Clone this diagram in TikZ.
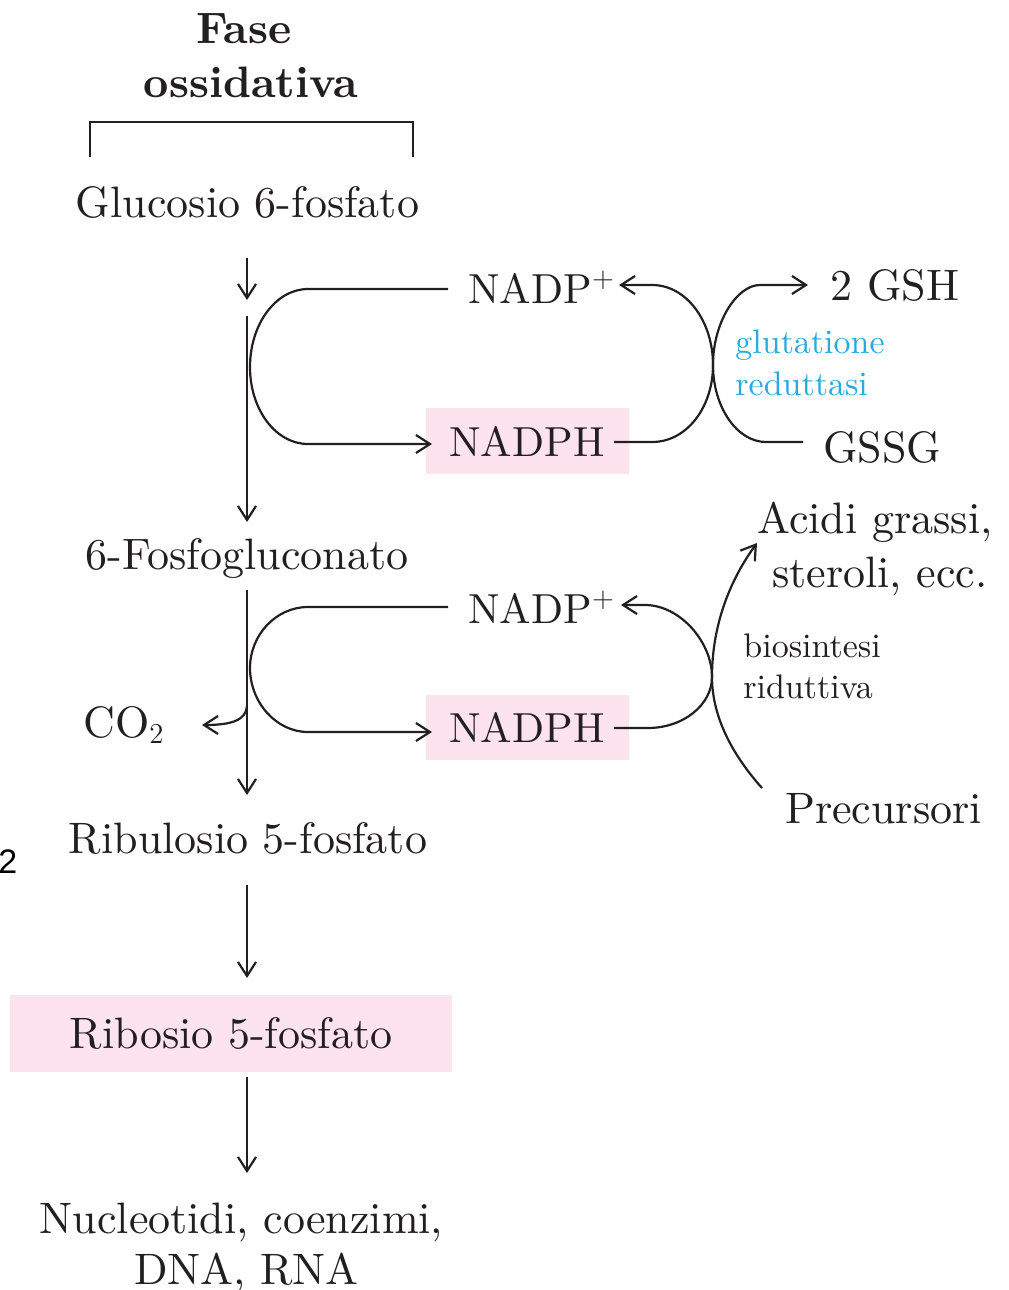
\documentclass[tikz,border=0pt]{standalone}
\usepackage{fontspec}
\setmainfont{lmroman10-regular.otf}[BoldFont=lmroman10-bold.otf, ItalicFont=lmroman10-italic.otf]
\newfontfamily\sansf{Liberation Sans}
\usetikzlibrary{arrows.meta}
\definecolor{ink}{HTML}{231F20}
\definecolor{pinkbox}{HTML}{FCE3ED}
\definecolor{cyantxt}{HTML}{27A9E1}
\tikzset{
  lbl/.style={inner sep=0pt, text=ink, font=\fontsize{22}{26}\selectfont},
  nadlbl/.style={inner sep=0pt, text=ink, font=\fontsize{21}{25}\selectfont},
  small/.style={inner sep=0pt, text=ink, font=\fontsize{17}{20}\selectfont},
  boldlbl/.style={inner sep=0pt, text=ink, font=\fontsize{22}{26}\selectfont\bfseries},
  pinkbg/.style={fill=pinkbox, inner sep=0pt, text=ink, font=\fontsize{22}{26}\selectfont},
  conn/.style={draw=ink, line width=1.1pt},
  arr/.style={conn, -{Straight Barb[length=7pt,width=9pt,line width=1.1pt]}},
}
\begin{document}
\begin{tikzpicture}[x=0.5pt,y=-0.5pt]
\useasboundingbox (0,0) rectangle (1008,1290);

% titles
\node[boldlbl, anchor=base] (fase1) at (244,43) {Fase};
\node[boldlbl, anchor=base] (fase2) at (251,97) {ossidativa};
\coordinate (brL) at (90,157);
\coordinate (brR) at (413,157);
\draw[conn] (brL) -- ++(0,-35) -| (brR);

% main column
\node[lbl, anchor=base] (g6p) at (247.5,217) {Glucosio 6-fosfato};
\node[lbl, anchor=base] (pg6) at (247,569) {6-Fosfogluconato};
\node[lbl, anchor=base] (ru5p) at (248,853) {Ribulosio 5-fosfato};
\node[pinkbg, minimum width=221pt, minimum height=38.5pt] (r5p) at (231,1033.5) {Ribosio 5-fosfato};
\node[lbl, anchor=base] (nuc1) at (241.5,1233) {Nucleotidi, coenzimi,};
\node[lbl, anchor=base] (nuc2) at (246.5,1284) {DNA, RNA};

\coordinate (a1s) at (247,258);
\coordinate (a1e) at (247,300);
\coordinate (a2s) at (247,316);
\coordinate (a2e) at (247,522);
\coordinate (a3s) at (247,590);
\coordinate (a3e) at (247,795);
\coordinate (a4s) at (247,885);
\coordinate (a4e) at (247,978);
\coordinate (a5s) at (247,1077);
\coordinate (a5e) at (247,1173);
\draw[arr] (a1s) -- (a1e);
\draw[arr] (a2s) -- (a2e);
\draw[arr] (a3s) -- (a3e);
\draw[arr] (a4s) -- (a4e);
\draw[arr] (a5s) -- (a5e);

% upper NADP loop
\node[nadlbl, anchor=base west] (nadpu) at (468,303) {NADP$^{+}$};
\node[pinkbg, font=\fontsize{21}{25}\selectfont, minimum width=101.5pt, minimum height=33pt] (nadphu) at (527,441) {NADPH};
\coordinate (lu1) at (448,289);
\coordinate (lu2) at (432,444);
\draw[arr] (lu1) -- (308,289) .. controls (276,289) and (250,324) .. (250,367)
  .. controls (250,410) and (276,444) .. (308,444) -- (lu2);

% lower NADP loop
\node[nadlbl, anchor=base west] (nadpl) at (468,623) {NADP$^{+}$};
\node[pinkbg, font=\fontsize{21}{25}\selectfont, minimum width=101.5pt, minimum height=32.5pt] (nadphl) at (527,727.5) {NADPH};
\coordinate (ll1) at (448,607);
\coordinate (ll2) at (432,732);
\draw[arr] (ll1) -- (308,607) .. controls (276,607) and (250,635) .. (250,668)
  .. controls (250,702) and (276,732) .. (308,732) -- (ll2);

% CO2
\node[lbl, anchor=base west] (co2) at (83,737) {CO$_2$};
\coordinate (co2s) at (247,706);
\coordinate (co2e) at (202,725);
\draw[arr] (co2s) .. controls (246,720) and (232,725) .. (co2e);

% glutathione reductase
\node[lbl, anchor=base west] (gsh) at (830,300) {2 GSH};
\node[lbl, anchor=base west] (gssg) at (823,462) {GSSG};
\node[small, anchor=base west, text=cyantxt] (glut1) at (735,353) {glutatione};
\node[small, anchor=base west, text=cyantxt] (glut2) at (735,395) {reduttasi};
\coordinate (ua1) at (614,442);
\coordinate (ua2) at (619,285);
\draw[arr] (ua1) -- (652,442) .. controls (687,442) and (713,407) .. (713,365)
  .. controls (713,322) and (687,285) .. (652,285) -- (ua2);
\coordinate (ub1) at (803,442);
\coordinate (ub2) at (808,285);
\draw[arr] (ub1) -- (766,442) .. controls (737,442) and (713,407) .. (713,365)
  .. controls (713,322) and (737,285) .. (760,285) -- (ub2);

% reductive biosynthesis
\node[lbl, anchor=base] (acidi1) at (875,533) {Acidi grassi,};
\node[lbl, anchor=base] (acidi2) at (880,587) {steroli, ecc.};
\node[small, anchor=base west] (bios1) at (743,657) {biosintesi};
\node[small, anchor=base west] (bios2) at (743,698) {riduttiva};
\node[lbl, anchor=base] (prec) at (883.5,823) {Precursori};
\coordinate (lc1) at (614,728);
\coordinate (lc2) at (621,605);
\draw[arr] (lc1) -- (648,728) .. controls (683,728) and (712,705) .. (712,677)
  .. controls (712,642) and (680,605) .. (645,605) -- (lc2);
\coordinate (pr1) at (762,788);
\coordinate (pr2) at (757,543);
\draw[arr] (pr1) .. controls (728,750) and (712,712) .. (712,677)
  .. controls (712,625) and (730,580) .. (pr2);

% stray page number
\node[inner sep=0pt, anchor=base west, font=\sansf\fontsize{17}{20}\selectfont, text=black] (pnum) at (-2,873) {2};
\end{tikzpicture}
\end{document}
